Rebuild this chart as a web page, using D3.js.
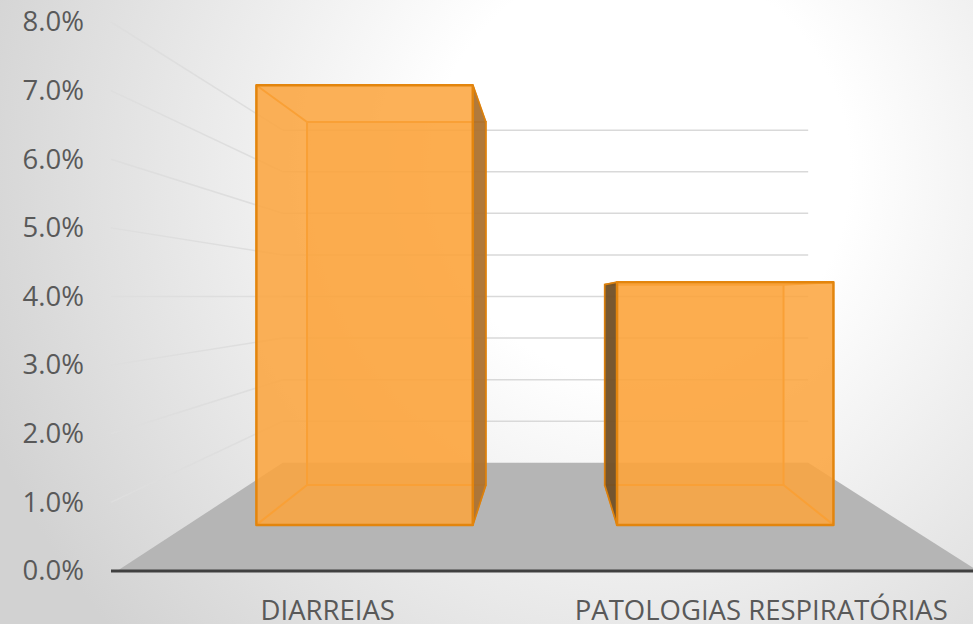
<!DOCTYPE html>
<head>
  <meta http-equiv="Content-Type" content="text/html; charset=utf-8">
  <style>
    body { margin: 0; }
    text { font-family: "Open Sans", sans-serif; }
  </style>
</head>
<body></body>
<script src="https://d3js.org/d3.v7.min.js"></script>
<script>

var width = 973,
    height = 624;

// data
var categories = ["DIARREIAS", "PATOLOGIAS RESPIRATÓRIAS"];
var values = [0.077, 0.0425];
var tickValues = [0, 0.01, 0.02, 0.03, 0.04, 0.05, 0.06, 0.07, 0.08];

// front plane scales (the depth of the axis line)
var xs = d3.scaleBand()
    .domain(categories)
    .range([111, 978])
    .paddingInner(0.4)
    .paddingOuter(0.2);
var ys = d3.scaleLinear()
    .domain([0, 0.08])
    .range([571, 22]);

// perspective: vanishing point and depth factors
var vp = [547, 296.5];
var kBarFront = 0.832,
    kBarBack = 0.687,
    kWall = 0.606;

function proj(x, y, k) {
  return [vp[0] + (x - vp[0]) * k, vp[1] + (y - vp[1]) * k];
}
var line = d3.line();
function poly(pts) { return line(pts) + "Z"; }

var svg = d3.select("body").append("svg")
    .attr("width", width)
    .attr("height", height);

var defs = svg.append("defs");
var bg = defs.append("radialGradient")
    .attr("id", "bg")
    .attr("gradientUnits", "userSpaceOnUse")
    .attr("cx", 640).attr("cy", 170).attr("r", 700);
bg.append("stop").attr("offset", "0").attr("stop-color", "#ffffff");
bg.append("stop").attr("offset", "0.3").attr("stop-color", "#ffffff");
bg.append("stop").attr("offset", "1").attr("stop-color", "#d2d2d2");

svg.append("rect")
    .attr("width", width)
    .attr("height", height)
    .attr("fill", "url(#bg)");

var xL = xs.range()[0],
    xR = xs.range()[1];

// floor
svg.append("path")
    .attr("d", poly([proj(xL + 6, ys(0), 1), proj(xR, ys(0), 1), proj(xR, ys(0), kWall), proj(xL, ys(0), kWall)]))
    .attr("fill", "#b5b5b5");

// gridlines: back wall and left wall
var grid = tickValues.slice(1);
svg.selectAll(".gridback")
    .data(grid)
    .enter()
    .append("line")
    .attr("class", "gridback")
    .attr("x1", function(d){return proj(xL, ys(d), kWall)[0];})
    .attr("y1", function(d){return proj(xL, ys(d), kWall)[1];})
    .attr("x2", function(d){return proj(xR, ys(d), kWall)[0];})
    .attr("y2", function(d){return proj(xR, ys(d), kWall)[1];})
    .attr("stroke", "#d9d9d9")
    .attr("stroke-width", 1.5);
svg.selectAll(".gridside")
    .data(grid)
    .enter()
    .append("line")
    .attr("class", "gridside")
    .attr("x1", function(d){return proj(xL, ys(d), 1)[0];})
    .attr("y1", function(d){return proj(xL, ys(d), 1)[1];})
    .attr("x2", function(d){return proj(xL, ys(d), kWall)[0];})
    .attr("y2", function(d){return proj(xL, ys(d), kWall)[1];})
    .attr("stroke", "#dedede")
    .attr("stroke-width", 1.5);

// bars
var bars = svg.selectAll(".bar")
    .data(categories.map(function(c, i){return {cat: c, v: values[i]};}))
    .enter()
    .append("g")
    .attr("class", "bar");

bars.each(function(d){
  var g = d3.select(this);
  var x0 = xs(d.cat), x1 = x0 + xs.bandwidth();
  var yb = ys(0), yt = ys(d.v);
  var f = [proj(x0, yt, kBarFront), proj(x1, yt, kBarFront), proj(x1, yb, kBarFront), proj(x0, yb, kBarFront)];
  var b = [proj(x0, yt, kBarBack), proj(x1, yt, kBarBack), proj(x1, yb, kBarBack), proj(x0, yb, kBarBack)];
  var rightSide = (x0 + x1) / 2 < vp[0];

  // edges behind the front face
  g.append("path")
      .attr("d", poly(b))
      .attr("fill", "#f7a13c")
      .attr("fill-opacity", 0.35)
      .attr("stroke", "#e8870f")
      .attr("stroke-width", 2);
  [0, 1, 2, 3].forEach(function(i){
    g.append("line")
        .attr("x1", f[i][0]).attr("y1", f[i][1])
        .attr("x2", b[i][0]).attr("y2", b[i][1])
        .attr("stroke", "#e8870f")
        .attr("stroke-width", 2);
  });

  // side face
  var side = rightSide ? [f[1], b[1], b[2], f[2]] : [f[0], b[0], b[3], f[3]];
  g.append("path")
      .attr("d", poly(side))
      .attr("fill", rightSide ? "#ad7332" : "#715028")
      .attr("fill-opacity", 0.95)
      .attr("stroke", "#d9800f")
      .attr("stroke-width", 1.5);

  // front face
  g.append("path")
      .attr("d", poly(f))
      .attr("fill", "#fba43d")
      .attr("fill-opacity", 0.86)
      .attr("stroke", "#e3850d")
      .attr("stroke-width", 2.5)
      .attr("stroke-linejoin", "round");
});

// axis line
svg.append("line")
    .attr("x1", xL).attr("y1", ys(0))
    .attr("x2", width).attr("y2", ys(0))
    .attr("stroke", "#404040")
    .attr("stroke-width", 3);

// value axis labels
var yAxis = svg.append("g")
    .attr("transform", "translate(" + xL + ",0)")
    .call(d3.axisLeft(ys).tickValues(tickValues).tickFormat(d3.format(".1%")).tickSize(0).tickPadding(27));
yAxis.select(".domain").remove();
yAxis.selectAll("text")
    .attr("fill", "#595959")
    .attr("font-size", 27.5)
    .attr("font-family", "Open Sans");

// category labels
var xAxis = svg.append("g")
    .attr("transform", "translate(0," + ys(0) + ")")
    .call(d3.axisBottom(xs).tickSize(0).tickPadding(29));
xAxis.select(".domain").remove();
xAxis.selectAll("text")
    .attr("fill", "#595959")
    .attr("font-size", 27.5)
    .attr("font-family", "Open Sans");

</script>
</html>
